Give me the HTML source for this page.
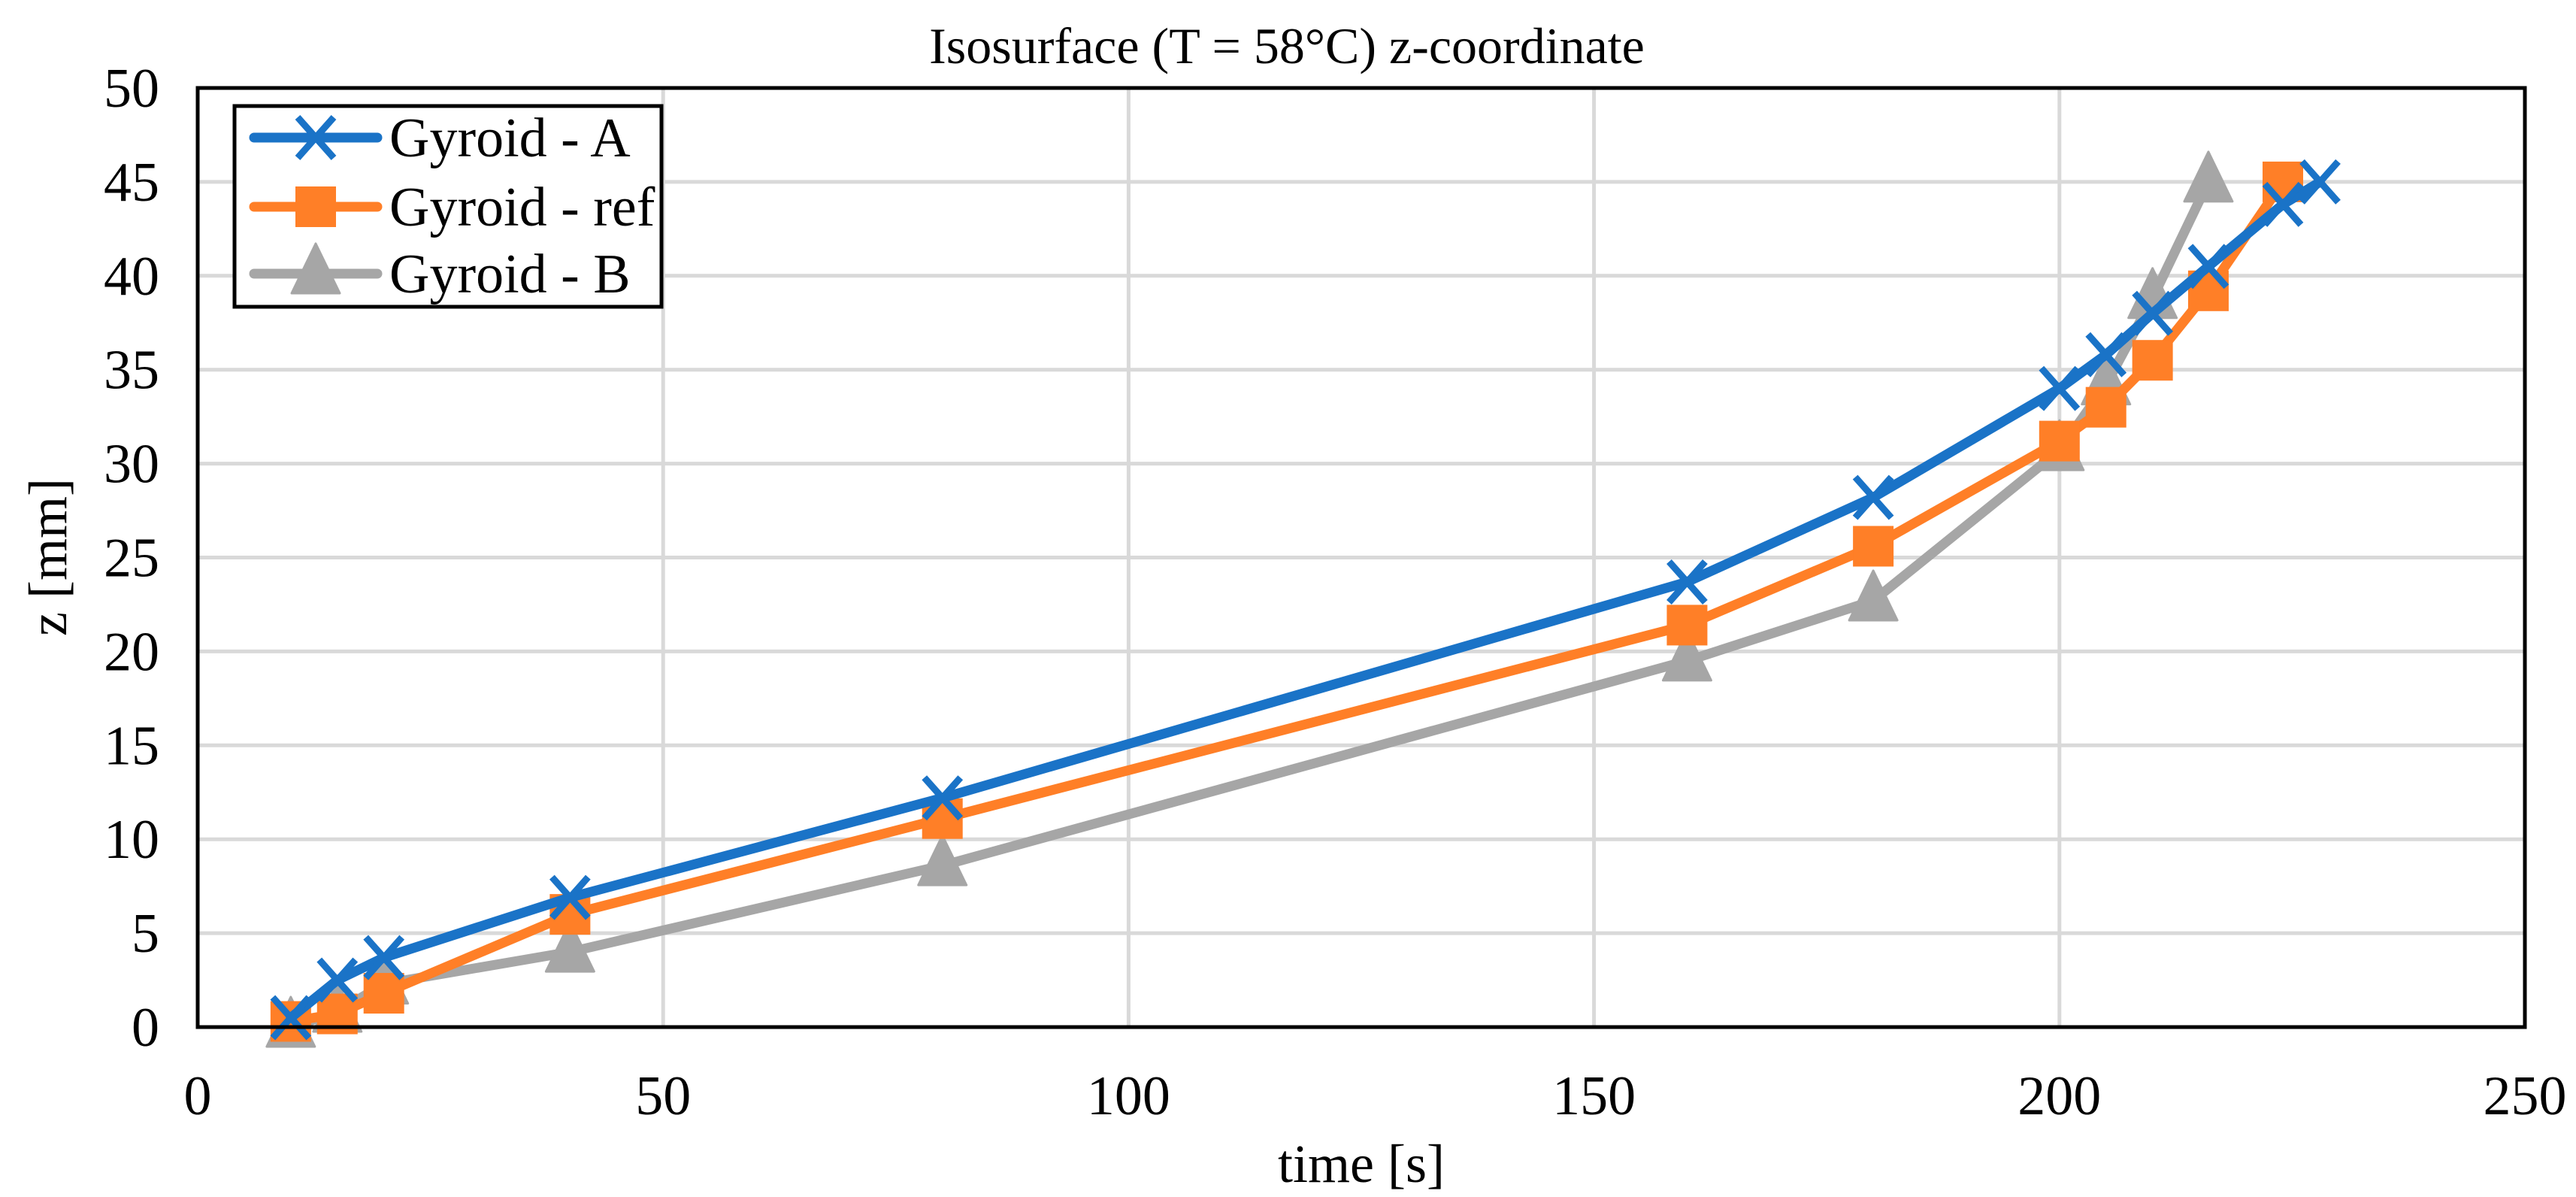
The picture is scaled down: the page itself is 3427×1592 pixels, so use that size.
<!DOCTYPE html>
<html><head><meta charset="utf-8"><style>
html,body{margin:0;padding:0;background:#fff;}
svg{display:block;font-family:"Liberation Serif",serif;}
</style></head><body>
<svg id="chart" width="3427" height="1592" viewBox="0 0 3427 1592">
<text x="1712" y="84" font-size="68" text-anchor="middle">Isosurface (T = 58°C) z-coordinate</text>
<g id="grid"></g>
<g id="series"></g>
<rect x="263" y="117" width="3096" height="1249" fill="none" stroke="#000" stroke-width="5"/>
<g id="ticks"></g>
<text x="1811" y="1572" font-size="72" text-anchor="middle">time [s]</text>
<text transform="translate(88,741) rotate(-90)" font-size="72" text-anchor="middle">z [mm]</text>
<g id="legend">
<rect x="312" y="141" width="568" height="267" fill="#fff" stroke="#000" stroke-width="5"/>
</g>
</svg>
<script>
const xTicks=[0,50,100,150,200,250];
const yTicks=[0,5,10,15,20,25,30,35,40,45,50];
const timeA=[10,15,20,40,80,160,180,200,205,210,216,224,228];
const zA=[0.5,2.5,3.7,6.9,12.2,23.7,28.2,34,35.8,38,40.5,43.8,45];
const timeRef=[10,15,20,40,80,160,180,200,205,210,216,224];
const zRef=[0.3,0.7,1.8,6,11.1,21.4,25.6,31.2,33,35.5,39.2,45];
const timeB=[10,15,20,40,80,160,180,200,205,210,216];
const zB=[0,0.8,2.3,4,8.6,19.5,22.7,30.7,34.2,38.8,45];
const seriesNames=["Gyroid - A","Gyroid - ref","Gyroid - B"];
const NS="http://www.w3.org/2000/svg";
const X0=263,X1=3359,Y0=1366,Y1=117;
const xs=v=>X0+(v-0)/(250-0)*(X1-X0);
const ys=v=>Y0-(v-0)/(50-0)*(Y0-Y1);
function mk(tag,attrs,parent){const e=document.createElementNS(NS,tag);for(const k in attrs)e.setAttribute(k,attrs[k]);parent.appendChild(e);return e;}
const grid=document.getElementById('grid'),ticks=document.getElementById('ticks'),ser=document.getElementById('series'),leg=document.getElementById('legend');
xTicks.forEach(t=>{
 if(t>0&&t<250){const l=mk('line',{x1:xs(t),x2:xs(t),y1:Y1,y2:Y0,stroke:'#d9d9d9','stroke-width':5},grid);
 
 }
 const tx=mk('text',{x:xs(t),y:1482,'font-size':74,'text-anchor':'middle'},ticks);tx.textContent=t;
 
 
});
yTicks.forEach(t=>{
 if(t>0&&t<50){const l=mk('line',{x1:X0,x2:X1,y1:ys(t),y2:ys(t),stroke:'#d9d9d9','stroke-width':5},grid);
 
 }
 const tx=mk('text',{x:212,y:ys(t)+25,'font-size':74,'text-anchor':'end'},ticks);tx.textContent=t;
 
 
});
function marker(type,x,y,color,parent){
 let e;
 if(type==='x'){e=mk('path',{d:`M${x-24},${y-27}L${x+24},${y+27}M${x-24},${y+27}L${x+24},${y-27}`,stroke:color,'stroke-width':9,fill:'none'},parent);}
 else if(type==='sq'){e=mk('rect',{x:x-27,y:y-27,width:54,height:54,fill:color},parent);}
 else {e=mk('path',{d:`M${x},${y-40}L${x+32},${y+26}L${x-32},${y+26}Z`,fill:color,'stroke-linejoin':'round',stroke:color,'stroke-width':3},parent);}
 return e;
}
const defs=[[timeA,zA,'#1a73c7','x','series-gyroid-a'],[timeRef,zRef,'#ff7f27','sq','series-gyroid-ref'],[timeB,zB,'#a6a6a6','tri','series-gyroid-b']];
defs.slice().reverse().forEach(([tx,zv,col,mt,nm])=>{
 const g=mk('g',{},ser);
 
 
 const pts=tx.map((t,i)=>xs(t)+','+ys(zv[i])).join(' ');
 const pl=mk('polyline',{points:pts,fill:'none',stroke:col,'stroke-width':13,'stroke-linejoin':'round','stroke-linecap':'round'},g);
 
 
 tx.forEach((t,i)=>{const m=marker(mt,xs(t),ys(zv[i]),col,g);
  
  });
});
const legY=[183,275,364];
defs.forEach(([tx,zv,col,mt,nm],i)=>{
 const g=mk('g',{},leg);
 
 
 mk('line',{x1:338,x2:502,y1:legY[i],y2:legY[i],stroke:col,'stroke-width':13,'stroke-linecap':'round'},g);
 marker(mt,420,legY[i],col,g);
 const t=mk('text',{x:518,y:legY[i]+25,'font-size':74},g);t.textContent=seriesNames[i];
});
</script>
</body></html>
